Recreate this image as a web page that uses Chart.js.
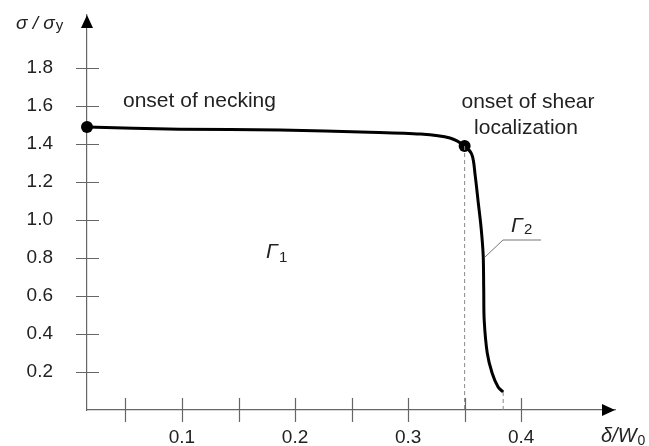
<!DOCTYPE html>
<html lang="en">
<head>
<meta charset="UTF-8">
<title>Stress vs displacement</title>
<style>
    body { margin: 0; padding: 0; background: #fff; }
    .wrap { position: relative; width: 649px; height: 446px; }
</style>
</head>
<body>
<div class="wrap"><canvas id="chart" width="649" height="446"></canvas></div>
<script src="https://cdn.jsdelivr.net/npm/chart.js"></script>
<script>
// curve sigma/sigma_y vs delta/W0
const curveX = [0.016, 0.098, 0.187, 0.266, 0.311, 0.337, 0.350, 0.3566, 0.3593, 0.362, 0.3646, 0.3664, 0.3669, 0.3673, 0.370, 0.3743, 0.3796, 0.3841];
const curveY = [1.49, 1.479, 1.474, 1.463, 1.453, 1.432, 1.39, 1.342, 1.237, 1.095, 0.958, 0.816, 0.632, 0.474, 0.300, 0.195, 0.121, 0.095];

// marked points: onset of necking, onset of shear localization
const dotX = [0.016, 0.350];
const dotY = [1.49, 1.39];

// dashed drop lines (x position, top value)
const dropX = [0.350, 0.3841];
const dropTop = [1.39, 0.095];

const yTicks = [0.2, 0.4, 0.6, 0.8, 1.0, 1.2, 1.4, 1.6, 1.8];
const xTicks = [0.05, 0.1, 0.15, 0.2, 0.25, 0.3, 0.35, 0.4];
const xLabelled = [0.1, 0.2, 0.3, 0.4];

const FONT = "'Liberation Sans', Arial, sans-serif";
const AXIS = '#666';

const toPts = (xs, ys) => xs.map((x, i) => ({ x: x, y: ys[i] }));

const dropSets = dropX.map((x, i) => ({
    data: [{ x: x, y: dropTop[i] }, { x: x, y: 0 }],
    showLine: true,
    borderColor: '#888',
    borderWidth: 1,
    borderDash: [4, 3],
    pointRadius: 0
}));

// text with a subscript right after it
function subText(ctx, main, sub, x, y, size, subSize, drop) {
    ctx.font = 'italic ' + size + 'px ' + FONT;
    ctx.fillText(main, x, y);
    const w = ctx.measureText(main).width;
    ctx.font = subSize + 'px ' + FONT;
    ctx.fillText(sub, x + w + 1, y + drop);
}

// axes arrows, crossing tick marks and annotations
const decor = {
    id: 'decor',
    afterDraw(chart) {
        const ctx = chart.ctx;
        const xs = chart.scales.x, ys = chart.scales.y;
        const a = chart.chartArea;
        ctx.save();
        ctx.strokeStyle = AXIS;
        ctx.lineWidth = 1.2;
        ctx.beginPath();
        yTicks.forEach(v => {
            const p = Math.round(ys.getPixelForValue(v)) + 0.5;
            ctx.moveTo(a.left - 11, p); ctx.lineTo(a.left + 12, p);
        });
        xTicks.forEach(v => {
            const p = Math.round(xs.getPixelForValue(v)) + 0.5;
            ctx.moveTo(p, a.bottom - 12); ctx.lineTo(p, a.bottom + 12);
        });
        ctx.stroke();

        // arrows
        ctx.fillStyle = '#000';
        ctx.beginPath();
        ctx.moveTo(a.left, a.top); ctx.lineTo(a.left - 6, a.top + 13); ctx.lineTo(a.left + 6, a.top + 13);
        ctx.closePath(); ctx.fill();
        ctx.beginPath();
        ctx.moveTo(a.right, a.bottom); ctx.lineTo(a.right - 13, a.bottom - 6); ctx.lineTo(a.right - 13, a.bottom + 6);
        ctx.closePath(); ctx.fill();

        // leader line for Gamma 2
        ctx.strokeStyle = '#777';
        ctx.lineWidth = 1;
        ctx.beginPath();
        ctx.moveTo(485, 257); ctx.lineTo(503, 240); ctx.lineTo(541, 240);
        ctx.stroke();

        ctx.fillStyle = '#222';
        ctx.textBaseline = 'alphabetic';
        ctx.font = '21px ' + FONT;
        ctx.textAlign = 'left';
        ctx.fillText('onset of necking', 123, 107);
        ctx.textAlign = 'center';
        ctx.fillText('onset of shear', 528, 108);
        ctx.fillText('localization', 526, 134);

        ctx.textAlign = 'left';
        subText(ctx, '\u0393', '1', 266, 258, 21, 15, 4);
        subText(ctx, '\u0393', '2', 511, 232, 21, 15, 2);
        subText(ctx, '\u03c3 / \u03c3', 'y', 16, 29, 19, 15, 1);
        subText(ctx, '\u03b4/W', '0', 601, 442, 20, 14, 3);
        ctx.restore();
    }
};

new Chart(document.getElementById('chart'), {
    type: 'scatter',
    data: {
        datasets: [
            ...dropSets,
            {
                data: toPts(curveX, curveY),
                showLine: true,
                borderColor: '#000',
                borderWidth: 3,
                tension: 0.3,
                pointRadius: 0
            },
            {
                data: toPts(dotX, dotY),
                pointRadius: 6,
                pointBackgroundColor: '#000',
                pointBorderWidth: 0,
                clip: false
            }
        ]
    },
    options: {
        responsive: false,
        animation: false,
        layout: { padding: { top: 15, right: 34, left: 0, bottom: 0 } },
        plugins: { legend: { display: false }, tooltip: { enabled: false } },
        scales: {
            x: {
                type: 'linear',
                min: 0.016,
                max: 0.483,
                afterFit: s => { s.height = 36; },
                afterBuildTicks: s => { s.ticks = xTicks.map(v => ({ value: v })); },
                grid: { display: false, drawTicks: true, tickLength: 16 },
                border: { display: true, color: AXIS, width: 1.2 },
                ticks: {
                    padding: 0,
                    color: '#222',
                    font: { family: FONT, size: 19 },
                    maxRotation: 0,
                    autoSkip: false,
                    callback: v => xLabelled.some(l => Math.abs(l - v) < 1e-6) ? v.toFixed(1) : ''
                }
            },
            y: {
                type: 'linear',
                min: 0,
                max: 2.08,
                afterFit: s => { s.width = 87; },
                afterBuildTicks: s => { s.ticks = yTicks.map(v => ({ value: v })); },
                grid: { display: false, drawTicks: true, tickLength: 34 },
                border: { display: true, color: AXIS, width: 1.2 },
                ticks: {
                    padding: 0,
                    color: '#222',
                    font: { family: FONT, size: 19 },
                    autoSkip: false,
                    callback: v => v.toFixed(1)
                }
            }
        }
    },
    plugins: [decor]
});
</script>
</body>
</html>
